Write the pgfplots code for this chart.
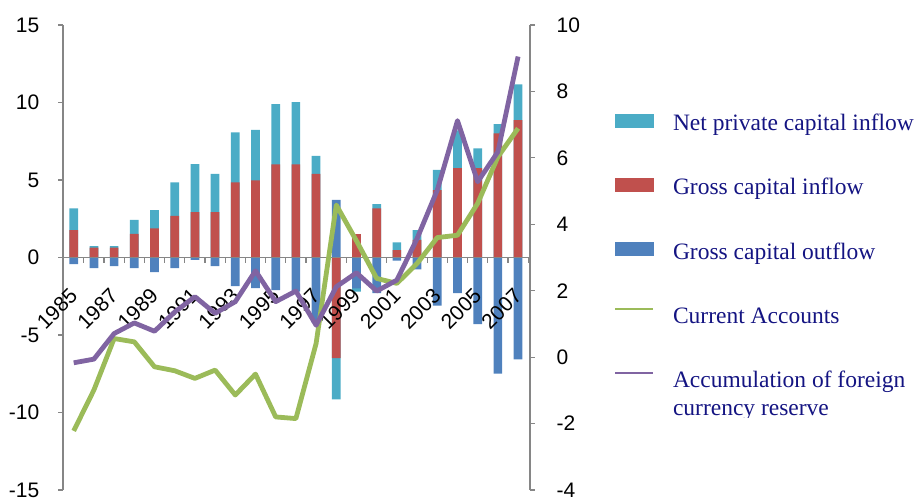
\documentclass[border=0pt]{standalone}
\usepackage{fontspec}
\setmainfont{Liberation Sans}
\newfontfamily\legserif{Liberation Serif}
\usepackage{pgfplots}
\pgfplotsset{compat=1.18}
\usepackage{pgfplotstable}
\definecolor{cyanC}{HTML}{4BACC6}
\definecolor{redC}{HTML}{C0504D}
\definecolor{blueC}{HTML}{4F81BD}
\definecolor{greenC}{HTML}{9BBB59}
\definecolor{purpleC}{HTML}{8064A2}
\definecolor{axisgray}{HTML}{868686}
\definecolor{navyC}{RGB}{20,20,130}
\newcommand\tickfont{\fontsize{21bp}{25bp}\selectfont}
\newcommand\legfont{\legserif\fontsize{23.5bp}{28.3bp}\selectfont}
% netend = outer end of the net private capital inflow segment (stacked)
\pgfplotstableread{
idx year netend gin gout ca res
0 1985 3.17 1.77 -0.42 -2.22 -0.17
1 1986 0.74 0.63 -0.68 -0.99 -0.06
2 1987 0.74 0.63 -0.55 0.56 0.71
3 1988 2.42 1.52 -0.68 0.46 1.03
4 1989 3.06 1.88 -0.94 -0.29 0.78
5 1990 4.85 2.68 -0.68 -0.41 1.36
6 1991 6.03 2.92 -0.16 -0.64 1.82
7 1992 5.39 2.92 -0.55 -0.39 1.32
8 1993 8.08 4.85 -1.84 -1.14 1.67
9 1994 8.23 4.98 -1.97 -0.51 2.60
10 1995 9.90 6.01 -2.10 -1.80 1.67
11 1996 10.03 6.01 -2.20 -1.85 1.99
12 1997 6.55 5.39 -4.20 0.41 0.96
13 1998 -9.15 -6.50 3.71 4.58 2.12
14 1999 -2.20 1.50 -2.00 3.50 2.54
15 2000 3.45 3.17 -2.30 2.37 1.99
16 2001 0.98 0.48 -0.20 2.22 2.32
17 2002 1.77 1.13 -0.76 2.82 3.57
18 2003 5.65 4.35 -3.10 3.60 5.03
19 2004 8.20 5.77 -2.30 3.67 7.12
20 2005 7.04 5.77 -4.30 4.63 5.28
21 2006 8.60 8.00 -7.50 6.03 6.18
22 2007 11.17 8.87 -6.57 6.89 9.05
}\data
\begin{document}
\begin{tikzpicture}
\useasboundingbox (-63bp,-12bp) rectangle (860bp,490bp);
\clip (-63bp,-12bp) -- (600bp,-12bp) -- (600bp,72bp) -- (860bp,72bp) -- (860bp,490bp) -- (-63bp,490bp) -- cycle;
\begin{axis}[
  width=467bp, height=465bp, scale only axis,
  xmin=-0.53, xmax=22.59, ymin=-15, ymax=15,
  axis x line=middle, axis y line=left,
  axis line style={-, draw=axisgray, line width=1.6bp},
  tick style={draw=axisgray, line width=1.2bp},
  tick align=outside, major tick length=4.5bp, minor tick length=5.5bp,
  ytick={-15,-10,...,15},
  xtick={0,2,...,22},
  xticklabels={1985,1987,1989,1991,1993,1995,1997,1999,2001,2003,2005,2007},
  minor xtick={-0.5,0.5,...,22.5},
  major x tick style={draw=none},
  hide obscured x ticks=false, hide obscured y ticks=false,
  tick label style={font=\tickfont, text=black},
  /pgf/number format/assume math mode=true,
  yticklabel style={anchor=east, inner sep=0pt},
  yticklabel shift=19bp,
  xticklabel style={rotate=45, anchor=east, inner sep=0pt},
  xticklabel shift=30bp,
  axis on top,
  ybar, bar width=8.7bp,
]
\addplot[ybar, bar shift=0pt, fill=cyanC, draw=none] table[x=idx, y=netend] {\data};
\addplot[ybar, bar shift=0pt, fill=redC, draw=none] table[x=idx, y=gin] {\data};
\addplot[ybar, bar shift=0pt, fill=blueC, draw=none] table[x=idx, y=gout] {\data};
\end{axis}
\begin{axis}[
  width=467bp, height=465bp, scale only axis,
  xmin=-0.53, xmax=22.59, ymin=-4, ymax=10,
  axis x line=none, axis y line=right,
  xtick=\empty,
  axis line style={-, draw=axisgray, line width=1.6bp},
  tick style={draw=axisgray, line width=1.2bp},
  tick align=outside, major tick length=4.5bp,
  ytick={-4,-2,...,10},
  tick label style={font=\tickfont, text=black},
  /pgf/number format/assume math mode=true,
  yticklabel style={anchor=west, inner sep=0pt},
  yticklabel shift=22bp,
  legend cell align=left,
  legend style={at={(1.1799,0.8114)}, anchor=north west, draw=none, fill=none,
    inner sep=0pt, outer sep=0pt, row sep=40.2bp, column sep=19bp,
    font=\legfont, text=navyC,
    nodes={inner sep=0pt, text height=18bp, text depth=6bp}},
]
\addlegendimage{legend image code/.code={\fill[cyanC] (0bp,-2.3bp) rectangle (38bp,10.7bp);}}
\addlegendentry{Net private capital inflow}
\addlegendimage{legend image code/.code={\fill[redC] (0bp,-2.3bp) rectangle (38bp,10.7bp);}}
\addlegendentry{Gross capital inflow}
\addlegendimage{legend image code/.code={\fill[blueC] (0bp,-2.3bp) rectangle (38bp,10.7bp);}}
\addlegendentry{Gross capital outflow}
\addplot[greenC, line width=4.8bp, line join=round, no marks,
  legend image code/.code={\draw[greenC, line width=2bp] (0bp,8bp) -- (38bp,8bp);}]
  table[x=idx, y=ca] {\data};
\addlegendentry{Current Accounts}
\addplot[purpleC, line width=4.8bp, line join=round, no marks,
  legend image code/.code={\draw[purpleC, line width=2bp] (0bp,8bp) -- (38bp,8bp);}]
  table[x=idx, y=res] {\data};
\addlegendentry{\parbox[t]{300bp}{Accumulation of foreign\\currency reserve}}
\end{axis}
\end{tikzpicture}
\end{document}
